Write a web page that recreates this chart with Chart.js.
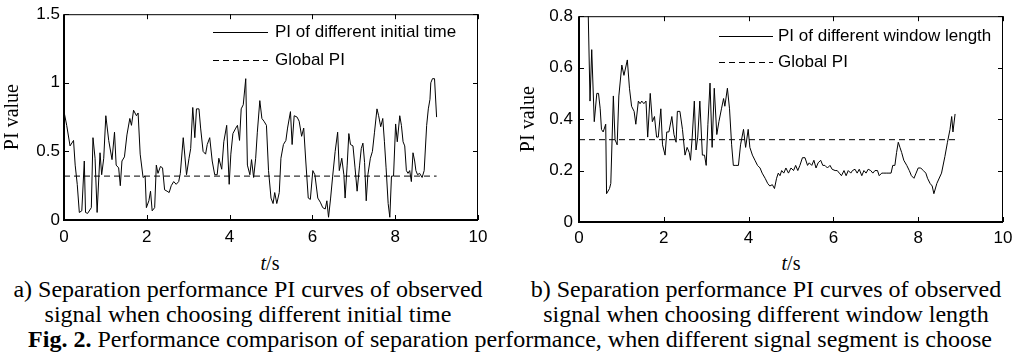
<!DOCTYPE html>
<html>
<head>
<meta charset="utf-8">
<script src="https://cdn.jsdelivr.net/npm/chart.js@4/dist/chart.umd.min.js"></script>
<style>
  body { margin: 0; background: #fff; }
  #wrap { position: relative; width: 1021px; height: 363px; overflow: hidden; }
  canvas { position: absolute; top: 0; }
  .xt { position: absolute; font: 20px "Liberation Serif", "Times New Roman", serif; color: #000; transform: translate(-50%, -50%); white-space: nowrap; }
  .cap { position: absolute; font: 24px/25px "Liberation Serif", "Times New Roman", serif; color: #000; text-align: center; white-space: nowrap; transform: translateX(-50%); }
</style>
</head>
<body>
<div id="wrap">
  <canvas id="chartA" width="510" height="250" style="left:0"></canvas>
  <canvas id="chartB" width="511" height="250" style="left:510px"></canvas>
  <div class="xt" style="left:270px; top:263px"><i>t</i>/s</div>
  <div class="xt" style="left:791px; top:263px"><i>t</i>/s</div>
  <div class="cap" style="left:248px; top:277px">a) Separation performance PI curves of observed<br>signal when choosing different initial time</div>
  <div class="cap" style="left:766px; top:277px">b) Separation performance PI curves of observed<br>signal when choosing different window length</div>
  <div class="cap" style="left:510px; top:327px"><b>Fig. 2.</b> Performance comparison of separation performance, when different signal segment is choose</div>
</div>
<script>
// a) different initial time
const tA = [0, 0.065, 0.146, 0.23, 0.27, 0.32, 0.37, 0.43, 0.49, 0.52,
  0.57, 0.66, 0.70, 0.75, 0.80, 0.87, 0.91, 0.96, 1.01, 1.08,
  1.16, 1.22, 1.26, 1.32, 1.36, 1.40, 1.46, 1.52, 1.59, 1.63,
  1.68, 1.75, 1.79, 1.84, 1.91, 1.96, 1.99, 2.05, 2.09, 2.13,
  2.19, 2.23, 2.27, 2.33, 2.38, 2.43, 2.49, 2.54, 2.59, 2.65,
  2.71, 2.77, 2.81, 2.88, 2.96, 3.02, 3.06, 3.11, 3.16, 3.20,
  3.26, 3.30, 3.36, 3.42, 3.46, 3.52, 3.58, 3.64, 3.70, 3.74,
  3.81, 3.86, 3.93, 3.99, 4.03, 4.08, 4.15, 4.19, 4.24, 4.28,
  4.33, 4.39, 4.43, 4.49, 4.53, 4.58, 4.63, 4.67, 4.73, 4.78,
  4.83, 4.89, 4.94, 5.00, 5.05, 5.09, 5.14, 5.20, 5.24, 5.30,
  5.36, 5.40, 5.47, 5.51, 5.56, 5.63, 5.68, 5.74, 5.79, 5.84,
  5.90, 5.95, 6.01, 6.06, 6.13, 6.19, 6.25, 6.31, 6.35, 6.39,
  6.44, 6.49, 6.55, 6.61, 6.65, 6.71, 6.76, 6.79, 6.84, 6.88,
  6.92, 6.98, 7.03, 7.08, 7.14, 7.18, 7.22, 7.26, 7.30, 7.34,
  7.40, 7.45, 7.50, 7.56, 7.60, 7.65, 7.70, 7.74, 7.78, 7.83,
  7.87, 7.91, 7.96, 8.01, 8.05, 8.11, 8.15, 8.19, 8.23, 8.27,
  8.31, 8.35, 8.39, 8.43, 8.47, 8.50, 8.54, 8.59, 8.65, 8.70,
  8.76, 8.80, 8.84, 8.86, 8.90, 8.95, 9.00];
const piA = [0.79, 0.69, 0.54, 0.58, 0.40, 0.26, 0.055, 0.067, 0.43, 0.055,
  0.048, 0.09, 0.60, 0.45, 0.055, 0.49, 0.33, 0.45, 0.76, 0.58,
  0.44, 0.64, 0.40, 0.38, 0.25, 0.43, 0.46, 0.62, 0.74, 0.69,
  0.80, 0.76, 0.78, 0.48, 0.31, 0.32, 0.09, 0.14, 0.21, 0.067,
  0.09, 0.40, 0.34, 0.39, 0.38, 0.22, 0.21, 0.20, 0.25, 0.28,
  0.26, 0.28, 0.34, 0.60, 0.33, 0.45, 0.52, 0.82, 0.60, 0.81,
  0.81, 0.67, 0.50, 0.48, 0.55, 0.60, 0.43, 0.33, 0.33, 0.45,
  0.37, 0.57, 0.69, 0.26, 0.48, 0.63, 0.67, 0.69, 0.58, 0.81,
  0.84, 1.03, 0.40, 0.33, 0.44, 0.31, 0.45, 0.64, 0.87, 0.74,
  0.72, 0.69, 0.36, 0.16, 0.12, 0.20, 0.12, 0.20, 0.45, 0.55,
  0.58, 0.67, 0.79, 0.55, 0.76, 0.75, 0.72, 0.61, 0.67, 0.43,
  0.16, 0.15, 0.36, 0.33, 0.16, 0.13, 0.09, 0.08, 0.14, 0.02,
  0.16, 0.32, 0.50, 0.64, 0.36, 0.45, 0.33, 0.16, 0.40, 0.63,
  0.55, 0.54, 0.38, 0.21, 0.40, 0.52, 0.56, 0.42, 0.14, 0.33,
  0.45, 0.50, 0.64, 0.81, 0.76, 0.68, 0.74, 0.57, 0.38, 0.12,
  0.02, 0.32, 0.32, 0.70, 0.57, 0.76, 0.69, 0.57, 0.54, 0.36,
  0.34, 0.36, 0.28, 0.49, 0.43, 0.36, 0.33, 0.34, 0.31, 0.36,
  0.69, 0.81, 0.88, 1.00, 1.03, 1.03, 0.75];
const globalTA = [0, 9];
const globalPIA = [0.32, 0.32];

// b) different window length
const tB = [0.20, 0.26, 0.30, 0.36, 0.42, 0.46, 0.50, 0.53, 0.57, 0.63,
  0.65, 0.72, 0.75, 0.81, 0.85, 0.90, 0.94, 1.01, 1.06, 1.14,
  1.19, 1.24, 1.30, 1.34, 1.40, 1.44, 1.48, 1.53, 1.58, 1.62,
  1.68, 1.73, 1.78, 1.83, 1.87, 1.93, 1.97, 2.03, 2.07, 2.12,
  2.19, 2.24, 2.29, 2.32, 2.38, 2.44, 2.50, 2.55, 2.60, 2.63,
  2.67, 2.72, 2.76, 2.80, 2.85, 2.91, 2.96, 3.00, 3.04, 3.09,
  3.14, 3.19, 3.25, 3.30, 3.36, 3.41, 3.44, 3.50, 3.55, 3.60,
  3.64, 3.70, 3.76, 3.81, 3.88, 3.93, 3.99, 4.03, 4.09, 4.15,
  4.21, 4.27, 4.32, 4.39, 4.45, 4.50, 4.56, 4.61, 4.66, 4.70,
  4.74, 4.78, 4.83, 4.88, 4.94, 5.00, 5.06, 5.11, 5.16, 5.21,
  5.27, 5.33, 5.39, 5.43, 5.49, 5.54, 5.59, 5.64, 5.70, 5.75,
  5.80, 5.86, 5.92, 5.97, 6.04, 6.09, 6.14, 6.19, 6.25, 6.30,
  6.35, 6.41, 6.45, 6.51, 6.56, 6.61, 6.67, 6.72, 6.77, 6.82,
  6.88, 6.93, 6.98, 7.04, 7.08, 7.14, 7.19, 7.26, 7.31, 7.36,
  7.40, 7.45, 7.49, 7.53, 7.57, 7.61, 7.66, 7.73, 7.79, 7.84,
  7.90, 7.95, 8.00, 8.06, 8.12, 8.18, 8.22, 8.28, 8.33, 8.37,
  8.44, 8.55, 8.63, 8.69, 8.75, 8.79, 8.82, 8.87];
const piB = [0.95, 0.47, 0.67, 0.39, 0.50, 0.50, 0.44, 0.36, 0.35, 0.38,
  0.11, 0.13, 0.15, 0.49, 0.32, 0.30, 0.49, 0.61, 0.57, 0.63,
  0.52, 0.45, 0.43, 0.38, 0.47, 0.46, 0.47, 0.46, 0.47, 0.33,
  0.50, 0.39, 0.41, 0.33, 0.33, 0.44, 0.30, 0.26, 0.35, 0.35,
  0.41, 0.34, 0.31, 0.43, 0.43, 0.36, 0.26, 0.29, 0.27, 0.24,
  0.33, 0.47, 0.28, 0.33, 0.47, 0.26, 0.26, 0.22, 0.38, 0.54,
  0.29, 0.52, 0.34, 0.39, 0.44, 0.48, 0.45, 0.52, 0.44, 0.30,
  0.22, 0.22, 0.22, 0.30, 0.36, 0.29, 0.36, 0.29, 0.26, 0.24,
  0.22, 0.21, 0.19, 0.17, 0.15, 0.14, 0.145, 0.13, 0.17, 0.19,
  0.18, 0.20, 0.19, 0.21, 0.19, 0.21, 0.20, 0.22, 0.20, 0.22,
  0.25, 0.25, 0.22, 0.23, 0.22, 0.24, 0.21, 0.23, 0.24, 0.22,
  0.22, 0.21, 0.22, 0.205, 0.20, 0.20, 0.19, 0.18, 0.20, 0.18,
  0.20, 0.19, 0.20, 0.205, 0.19, 0.205, 0.18, 0.20, 0.19, 0.205,
  0.20, 0.19, 0.20, 0.20, 0.18, 0.19, 0.19, 0.19, 0.19, 0.19,
  0.22, 0.22, 0.27, 0.31, 0.29, 0.27, 0.24, 0.22, 0.20, 0.18,
  0.17, 0.19, 0.21, 0.21, 0.20, 0.19, 0.17, 0.15, 0.14, 0.11,
  0.15, 0.19, 0.255, 0.31, 0.36, 0.41, 0.35, 0.42];
const globalTB = [0, 8.9];
const globalPIB = [0.32, 0.32];

const sansFont = '"Liberation Sans", Arial, sans-serif';
const serifFont = '"Liberation Serif", "Times New Roman", serif';

function toPoints(xs, ys) {
    return xs.map(function(x, i) { return {x: x, y: ys[i]}; });
}

// plain tick text like matlab: 1 not 1.0
function plainTick(value) {
    return String(Number(value.toFixed(2)));
}

// box around the plot with inward ticks on all four sides (matlab look)
const framePlugin = {
    id: 'frame',
    afterDatasetsDraw(chart) {
        const ctx = chart.ctx, a = chart.chartArea;
        const xs = chart.scales.x, ys = chart.scales.y;
        const tl = 5;
        ctx.save();
        ctx.strokeStyle = '#000';
        ctx.lineWidth = 1;
        ctx.beginPath();
        ctx.moveTo(a.left, a.top + 0.5);
        ctx.lineTo(a.right, a.top + 0.5);
        ctx.moveTo(a.right - 0.5, a.top);
        ctx.lineTo(a.right - 0.5, a.bottom);
        xs.ticks.forEach(function(t) {
            const px = Math.round(xs.getPixelForValue(t.value)) + 0.5;
            ctx.moveTo(px, a.bottom); ctx.lineTo(px, a.bottom - tl);
            ctx.moveTo(px, a.top); ctx.lineTo(px, a.top + tl);
        });
        ys.ticks.forEach(function(t) {
            const py = Math.round(ys.getPixelForValue(t.value)) + 0.5;
            ctx.moveTo(a.left, py); ctx.lineTo(a.left + tl, py);
            ctx.moveTo(a.right, py); ctx.lineTo(a.right - tl, py);
        });
        ctx.stroke();
        ctx.lineWidth = 2;
        ctx.beginPath();
        ctx.moveTo(a.left, a.top);
        ctx.lineTo(a.left, a.bottom);
        ctx.lineTo(a.right, a.bottom);
        ctx.stroke();
        ctx.restore();
    }
};

// legend drawn inside the axes at fixed spots
const boxLegendPlugin = {
    id: 'boxLegend',
    afterDraw(chart, args, opts) {
        const ctx = chart.ctx;
        ctx.save();
        ctx.font = '17px ' + sansFont;
        ctx.textBaseline = 'middle';
        ctx.fillStyle = '#000';
        chart.data.datasets.forEach(function(ds, i) {
            const y = opts.rows[i] + 0.5;
            ctx.strokeStyle = '#000';
            ctx.lineWidth = 1;
            ctx.setLineDash(ds.borderDash || []);
            ctx.beginPath();
            ctx.moveTo(opts.x0, y);
            ctx.lineTo(opts.x1, y);
            ctx.stroke();
            ctx.setLineDash([]);
            ctx.fillText(ds.label, opts.textX, y);
        });
        ctx.restore();
    }
};

function piChart(canvasId, curve, global, label, yMax, yStep, cfg) {
    const canvasEl = document.getElementById(canvasId).getContext('2d');
    return new Chart(canvasEl, {
        type: 'line',
        data: {
            datasets: [{
                label: label,
                data: curve,
                borderColor: '#000',
                borderWidth: 1,
                pointRadius: 0,
                tension: 0
            }, {
                label: 'Global PI',
                data: global,
                borderColor: '#000',
                borderWidth: 1,
                borderDash: [6, 4],
                pointRadius: 0
            }]
        },
        options: {
            responsive: false,
            animation: false,
            events: [],
            layout: { padding: { left: 0, top: 12, right: cfg.padRight, bottom: 0 } },
            scales: {
                x: {
                    type: 'linear',
                    min: 0, max: 10,
                    grid: { display: false, drawTicks: false },
                    border: { display: false },
                    ticks: { stepSize: 2, color: '#000', padding: cfg.xPad, font: { family: sansFont, size: 17 }, maxRotation: 0, callback: plainTick },
                    afterFit: function(scale) { scale.height = cfg.xHeight; }
                },
                y: {
                    min: 0, max: yMax,
                    grid: { display: false, drawTicks: false },
                    border: { display: false },
                    ticks: { stepSize: yStep, color: '#000', padding: cfg.yPad, font: { family: sansFont, size: 17 }, callback: plainTick },
                    title: { display: true, text: 'PI value', color: '#000', padding: { top: cfg.titlePad, bottom: 0 }, font: { family: serifFont, size: 20 } },
                    afterFit: function(scale) { scale.width = cfg.yWidth; }
                }
            },
            plugins: {
                legend: { display: false },
                tooltip: { enabled: false },
                boxLegend: cfg.legend
            }
        },
        plugins: [framePlugin, boxLegendPlugin]
    });
}

piChart('chartA', toPoints(tA, piA), toPoints(globalTA, globalPIA),
    'PI of different initial time', 1.5, 0.5,
    { padRight: 32, xHeight: 30, yWidth: 64, xPad: 7, yPad: 4, titlePad: 1,
      legend: { x0: 213, x1: 268, textX: 275, rows: [32, 60] } });

piChart('chartB', toPoints(tB, piB), toPoints(globalTB, globalPIB),
    'PI of different window length', 0.8, 0.2,
    { padRight: 18, xHeight: 28, yWidth: 69, xPad: 6, yPad: 6, titlePad: 7,
      legend: { x0: 209, x1: 263, textX: 268, rows: [36, 62] } });
</script>
</body>
</html>
